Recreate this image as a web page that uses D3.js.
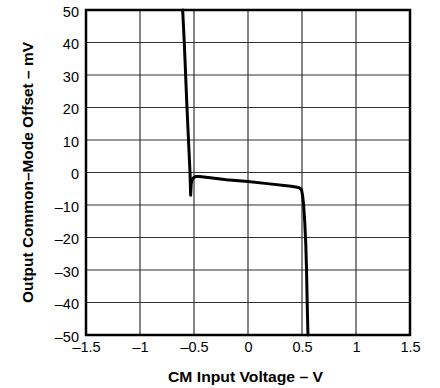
<!DOCTYPE html>
<html><head><meta charset="utf-8">
<script src="https://cdn.jsdelivr.net/npm/d3@7"></script>
<style>body{margin:0;background:#fff}svg{display:block}</style>
</head><body>
<script>
const xTicks = [-1.5, -1, -0.5, 0, 0.5, 1, 1.5];
const yTicks = [-50, -40, -30, -20, -10, 0, 10, 20, 30, 40, 50];
const cmVoltage = [-0.605, -0.59, -0.565, -0.537, -0.531, -0.526, -0.515, -0.5, -0.48, -0.45, -0.35, -0.2, 0, 0.2, 0.4, 0.47, 0.495, 0.505, 0.515, 0.525, 0.535, 0.542, 0.548, 0.555];
const offsetMv = [50, 40, 20, 0, -7, -3.5, -2, -1.5, -1.2, -1.2, -1.6, -2.2, -2.8, -3.5, -4.2, -4.6, -5.2, -7, -10, -15, -22, -30, -40, -50];
const fmt = v => (v < 0 ? "\u2013" : "") + Math.abs(v);

const W = 440, H = 388;
const m = {left: 86, top: 10, right: 30, bottom: 53};
const svg = d3.select("body").append("svg").attr("width", W).attr("height", H);
const x = d3.scaleLinear().domain([-1.5, 1.5]).range([m.left, W - m.right]);
const y = d3.scaleLinear().domain([-50, 50]).range([H - m.bottom, m.top]);

const g = svg.append("g");
g.selectAll("line.vx").data(xTicks).join("line")
  .attr("x1", d => x(d)).attr("x2", d => x(d)).attr("y1", y(50)).attr("y2", y(-50))
  .attr("stroke", "#333").attr("stroke-width", 1.2);
g.selectAll("line.hy").data(yTicks).join("line")
  .attr("y1", d => y(d)).attr("y2", d => y(d)).attr("x1", x(-1.5)).attr("x2", x(1.5))
  .attr("stroke", "#333").attr("stroke-width", 1.2);

const line = d3.line().x(d => x(d[0])).y(d => y(d[1])).curve(d3.curveLinear);
svg.append("path").datum(cmVoltage.map((v, i) => [v, offsetMv[i]]))
  .attr("d", line).attr("fill", "none").attr("stroke", "#000").attr("stroke-width", 3)
  .attr("stroke-linejoin", "round").attr("stroke-linecap", "round");

svg.append("rect").attr("x", x(-1.5)).attr("y", y(50)).attr("width", x(1.5) - x(-1.5)).attr("height", y(-50) - y(50))
  .attr("fill", "none").attr("stroke", "#000").attr("stroke-width", 2.5);

const font = "'Liberation Sans', Arial, sans-serif";
const xAxis = d3.axisBottom(x).tickValues(xTicks).tickFormat(fmt).tickSize(0).tickPadding(7);
const xa = svg.append("g").attr("transform", `translate(0,${y(-50)})`).call(xAxis);
const yAxis = d3.axisLeft(y).tickValues(yTicks).tickFormat(fmt).tickSize(0).tickPadding(7);
const ya = svg.append("g").attr("transform", `translate(${x(-1.5)},1.5)`).call(yAxis);
[xa, ya].forEach(a => {
  a.select(".domain").remove();
  a.selectAll("text").attr("font-family", font).attr("font-size", 14.5).attr("fill", "#000");
});

svg.append("text").attr("x", 245.5).attr("y", 382).attr("text-anchor", "middle")
  .attr("font-family", font).attr("font-weight", "bold").attr("font-size", 14)
  .attr("textLength", 155).attr("lengthAdjust", "spacingAndGlyphs")
  .text("CM Input Voltage \u2013 V");
svg.append("text").attr("transform", `translate(32.5,172.5) rotate(-90)`).attr("text-anchor", "middle")
  .attr("font-family", font).attr("font-weight", "bold").attr("font-size", 14)
  .attr("textLength", 261).attr("lengthAdjust", "spacingAndGlyphs")
  .text("Output Common\u2013Mode Offset \u2013 mV");
</script>
</body></html>
